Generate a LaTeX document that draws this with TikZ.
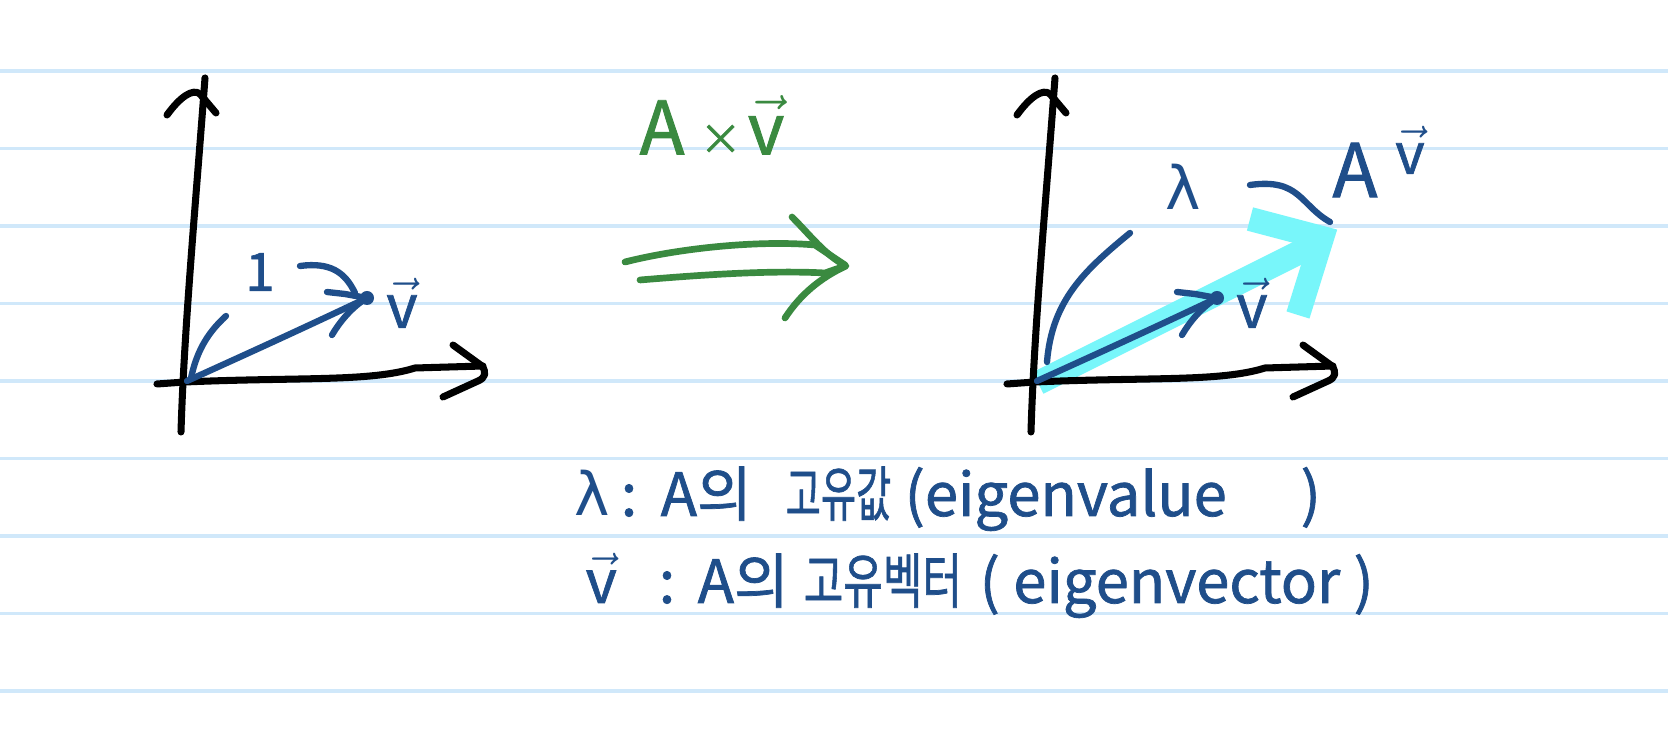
\documentclass[tikz,border=0pt]{standalone}
\usepackage{fontspec}
\usepackage{graphicx, amsmath}
\setmainfont{Noto Sans CJK KR}[FakeBold=1.2]
\newfontfamily\greekfont{DejaVu Sans}
\usetikzlibrary{positioning}

\definecolor{ruleblue}{RGB}{208,232,250}
\definecolor{pen}{RGB}{31,78,138}
\definecolor{greenpen}{RGB}{58,138,64}
\definecolor{marker}{RGB}{120,246,250}

\begin{document}
\begin{tikzpicture}[x=0.01cm, y=-0.01cm,
    rule/.style={ruleblue, line width=0.9pt},
    axis/.style={black, line width=2pt, line cap=round, line join=round},
    ink/.style={pen, line width=1.8pt, line cap=round, line join=round},
    greenink/.style={greenpen, line width=1.9pt, line cap=round, line join=round},
    hilite/.style={marker, line width=0.24cm},
    label/.style={pen, inner sep=0pt}]

    \fill[white] (0,0) rectangle (1668,731);
    \useasboundingbox (0,0) rectangle (1668,731);

    % ruled paper
    \foreach \ry in {71,148.5,...,700} {
        \draw[rule] (0,\ry) -- (1668,\ry);
    }

    % highlighter under the right plot
    \draw[hilite] (1038,383) -- (1316,244);
    \draw[hilite, line join=miter] (1250,219) -- (1322,238) -- (1298,315);

    % the two plots
    \foreach \dx in {0,850} {
        \draw[axis] ({\dx+205},78) .. controls ({\dx+196},200) and ({\dx+184},330) .. ({\dx+181},432);
        \draw[axis] ({\dx+167},115) .. controls ({\dx+180},97) and ({\dx+193},88) .. ({\dx+200},94) -- ({\dx+216},113);
        \draw[axis] ({\dx+157},384) -- ({\dx+185},382) .. controls ({\dx+300},377) and ({\dx+370},382) .. ({\dx+415},368) -- ({\dx+483},366);
        \draw[axis] ({\dx+453},345) -- ({\dx+482},366) .. controls ({\dx+487},373) and ({\dx+485},378) .. ({\dx+478},381) -- ({\dx+443},397);

        \draw[ink] ({\dx+187},381) .. controls ({\dx+260},348) and ({\dx+310},325) .. ({\dx+367},298);
        \draw[ink] ({\dx+327},292) -- ({\dx+345},294) -- ({\dx+367},298);
        \draw[ink] ({\dx+332},335) .. controls ({\dx+342},318) and ({\dx+355},305) .. ({\dx+367},298);
        \fill[pen] ({\dx+367},298) circle[radius=0.7mm];
        \node[label, font=\fontsize{17pt}{20pt}\selectfont] (vlab\dx) at ({\dx+402},303) {$\vec{\text{v}}$};
    }

    % left: unit length
    \draw[ink] (226,316) .. controls (205,335) and (196,355) .. (191,378);
    \node[label, font=\fontsize{15pt}{18pt}\selectfont] (one) at (260,272) {1};
    \draw[ink] (300,266) .. controls (330,262) and (345,272) .. (355,293);

    % right: scaled by lambda
    \draw[ink] (1047,362) .. controls (1052,300) and (1085,270) .. (1130,233);
    \node[label, font=\fontsize{17pt}{20pt}\greekfont] (lam) at (1183,187) {λ};
    \draw[ink] (1250,185) .. controls (1300,178) and (1300,205) .. (1330,222);
    \node[label, font=\fontsize{21pt}{24pt}\selectfont] (Atop) at (1355,170) {A};
    \node[label, font=\fontsize{16pt}{18pt}\selectfont] (vtop) at (1410,150) {$\vec{\text{v}}$};

    % green transformation
    \node[greenpen, inner sep=0pt, font=\fontsize{21pt}{25pt}\selectfont] (Av) at (712,125)
        {A\hspace{0.15cm}{\fontsize{12pt}{14pt}\selectfont×}\hspace{0.06cm}{\fontsize{20pt}{24pt}\selectfont$\vec{\text{v}}$}};
    \draw[greenink] (625,262) .. controls (680,248) and (760,240) .. (815,245) -- (845,265);
    \draw[greenink] (640,280) .. controls (700,275) and (770,270) .. (825,273) -- (845,266);
    \draw[greenink] (792,217) .. controls (810,235) and (825,255) .. (846,266) .. controls (820,278) and (800,295) .. (785,318);

    % legend
    \begin{scope}[every node/.style={label, anchor=base west, font=\fontsize{17pt}{20pt}\selectfont}]
        \node (lamkey) at (574,516) {\greekfont λ};
        \node (colA) at (620,516) {:};
        \node (AofA) at (660,516) {A의};
        \node (eigval) at (785,516) {\scalebox{0.64}[1]{고유값}};
        \node (evalue) at (904,516) {(eigenvalue};
        \node (evclose) at (1300,516) {)};

        \node (vkey) at (585,603) {$\vec{\text{v}}$};
        \node (colB) at (658,603) {:};
        \node (AofB) at (697,603) {A의};
        \node (eigvec) at (803,603) {\scalebox{0.72}[1]{고유벡터}};
        \node (evector) at (979,603) {( eigenvector )};
    \end{scope}
\end{tikzpicture}
\end{document}
